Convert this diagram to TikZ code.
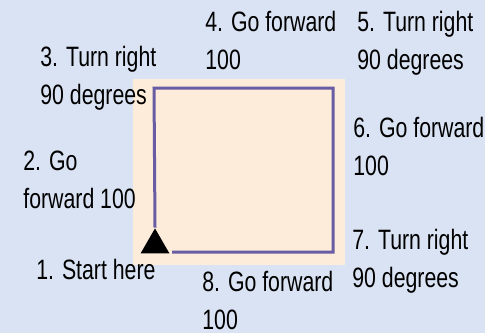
\documentclass[tikz,border=0pt]{standalone}
\usepackage{fontspec}
\setmainfont[FakeStretch=0.76]{Liberation Sans}
\usetikzlibrary{shapes.geometric}
\definecolor{skyback}{RGB}{218,227,243}
\definecolor{paper}{RGB}{253,236,218}
\definecolor{routeline}{RGB}{104,92,164}

\begin{document}
\begin{tikzpicture}[x=.5pt,y=-.5pt,font=\fontsize{14}{19}\selectfont,
    step text/.style={anchor=west,inner sep=0pt,align=left},
    route/.style={draw=routeline,line width=1.5pt,line join=miter}]
    \fill[skyback] (0,0) rectangle (485,333);
    \fill[paper] (133,79) rectangle (345,265);
    \coordinate (tl) at (154,88);
    \coordinate (tr) at (333,88);
    \coordinate (br) at (333,252);
    \coordinate (bl) at (172,252);
    \node[regular polygon,regular polygon sides=3,fill=black,inner sep=0pt,
      minimum size=16.6pt] (start) at (155,245) {};
    \draw[route] (start.north) -- (tl) -- (tr) -- (br) -- (bl);
    % the steps round the square
    \node[step text] (s1) at (36,269) {1. Start here};
    \node[step text] (s2) at (23,180) {2. Go\\forward 100};
    \node[step text] (s3) at (40,78) {3. Turn right\\90 degrees};
    \node[step text] (s4) at (205,40) {4. Go forward\\100};
    \node[step text] (s5) at (357,43) {5. Turn right\\90 degrees};
    \node[step text] (s6) at (353,146) {6. Go forward\\100};
    \node[step text] (s7) at (352,261) {7. Turn right\\90 degrees};
    \node[step text] (s8) at (202,300) {8. Go forward\\100};
  \end{tikzpicture}
\end{document}
